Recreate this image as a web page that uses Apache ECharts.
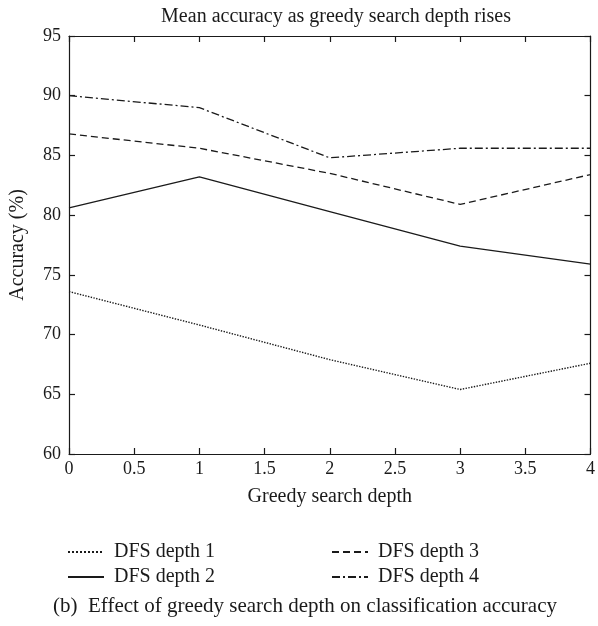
<!DOCTYPE html>
<html>
<head>
<meta charset="utf-8">
<script src="https://cdn.jsdelivr.net/npm/echarts@6/dist/echarts.min.js"></script>
<style>
  html, body { margin: 0; padding: 0; background: #fff; }
  #chart { width: 598px; height: 626px; }
</style>
</head>
<body>
<div id="chart"></div>
<script>
// Greedy search depth (x) vs mean accuracy (%) for each DFS depth
const greedyDepth = [0, 1, 2, 3, 4];
const dfsDepth1 = [73.6, 70.8, 67.9, 65.4, 67.6];
const dfsDepth2 = [80.6, 83.2, 80.3, 77.4, 75.9];
const dfsDepth3 = [86.8, 85.6, 83.5, 80.9, 83.4];
const dfsDepth4 = [90.0, 89.0, 84.8, 85.6, 85.6];
const seriesNames = ['DFS depth 1', 'DFS depth 2', 'DFS depth 3', 'DFS depth 4'];
const xTickLabels = ['0', '0.5', '1', '1.5', '2', '2.5', '3', '3.5', '4'];

const FONT = '"Liberation Serif", "DejaVu Serif", serif';
const INK = '#1a1a1a';

const pairs = vals => greedyDepth.map((x, i) => [x, vals[i]]);

const dashStyles = ['dotted', 'solid', [7, 4], [8, 3, 2, 3]];
const allValues = [dfsDepth1, dfsDepth2, dfsDepth3, dfsDepth4];

const series = allValues.map((vals, i) => ({
  name: seriesNames[i],
  type: 'line',
  data: pairs(vals),
  symbol: 'none',
  xAxisIndex: 0,
  yAxisIndex: 0,
  lineStyle: { color: INK, width: i === 0 ? 1.4 : 1.3, type: dashStyles[i] },
  itemStyle: { color: INK },
  emphasis: { disabled: true },
  animation: false
}));

function axisCommon() {
  return {
    axisLine: { show: true, onZero: false, lineStyle: { color: INK, width: 1.2 } },
    axisTick: { show: true, inside: true, length: 6, lineStyle: { color: INK, width: 1.2 } },
    splitLine: { show: false }
  };
}

function xAxisBase() {
  return Object.assign(axisCommon(), { type: 'value', min: 0, max: 4, interval: 0.5 });
}
function yAxisBase() {
  return Object.assign(axisCommon(), { type: 'value', min: 60, max: 95, interval: 5 });
}

function legendFor(left, names) {
  return {
    orient: 'vertical',
    left: left,
    top: 537,
    itemWidth: 36,
    itemHeight: 14,
    itemGap: 5,
    data: names,
    itemStyle: { opacity: 0 },
    textStyle: { fontFamily: FONT, fontSize: 20, color: INK, padding: [0, 0, 0, 5] },
    selectedMode: false
  };
}

const option = {
  backgroundColor: '#fff',
  animation: false,
  title: [
    {
      text: 'Mean accuracy as greedy search depth rises',
      left: 331, top: 2, textAlign: 'center',
      textStyle: { fontFamily: FONT, fontSize: 20, fontWeight: 'normal', color: INK }
    },
    {
      text: '(b)  Effect of greedy search depth on classification accuracy',
      left: 300, top: 591, textAlign: 'center',
      textStyle: { fontFamily: FONT, fontSize: 21, fontWeight: 'normal', color: INK }
    }
  ],
  grid: { left: 67, right: 3, top: 36, bottom: 172, containLabel: false },
  xAxis: [
    Object.assign(xAxisBase(), {
      position: 'bottom',
      name: 'Greedy search depth',
      nameLocation: 'middle',
      nameGap: 33,
      nameTextStyle: { fontFamily: FONT, fontSize: 20, color: INK },
      axisLabel: {
        fontFamily: FONT, fontSize: 18, color: INK, margin: 6,
        formatter: v => xTickLabels[Math.round(v * 2)]
      }
    }),
    Object.assign(xAxisBase(), { position: 'top', axisLabel: { show: false } })
  ],
  yAxis: [
    Object.assign(yAxisBase(), {
      position: 'left',
      name: 'Accuracy (%)',
      nameLocation: 'middle',
      nameGap: 41,
      nameTextStyle: { fontFamily: FONT, fontSize: 20, color: INK },
      axisLabel: { fontFamily: FONT, fontSize: 18, color: INK, margin: 8 }
    }),
    Object.assign(yAxisBase(), { position: 'right', axisLabel: { show: false } })
  ],
  legend: [
    legendFor(62, [seriesNames[0], seriesNames[1]]),
    legendFor(326, [seriesNames[2], seriesNames[3]])
  ],
  series: series
};

const chart = echarts.init(document.getElementById('chart'), null, { renderer: 'canvas' });
chart.setOption(option);
</script>
</body>
</html>
